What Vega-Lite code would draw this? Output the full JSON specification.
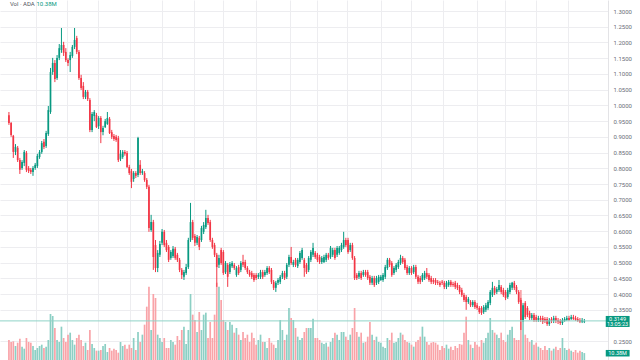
{
"$schema":"https://vega.github.io/schema/vega-lite/v6.json",
"width":608,"height":360,"autosize":"none",
"padding":{"left":0,"top":0,"right":32,"bottom":0},
"background":"white",
"config":{"view":{"stroke":null},"font":"Roboto"},
"datasets":{"k":[
{"i":0,"o":0.969,"h":0.979,"l":0.938,"c":0.944,"v":30},
{"i":1,"o":0.944,"h":0.947,"l":0.900,"c":0.906,"v":27},
{"i":2,"o":0.903,"h":0.906,"l":0.833,"c":0.852,"v":28},
{"i":3,"o":0.852,"h":0.877,"l":0.842,"c":0.868,"v":21},
{"i":4,"o":0.865,"h":0.871,"l":0.820,"c":0.826,"v":26},
{"i":5,"o":0.826,"h":0.833,"l":0.782,"c":0.795,"v":32},
{"i":6,"o":0.801,"h":0.826,"l":0.795,"c":0.820,"v":20},
{"i":7,"o":0.817,"h":0.858,"l":0.807,"c":0.852,"v":17},
{"i":8,"o":0.849,"h":0.855,"l":0.788,"c":0.795,"v":33},
{"i":9,"o":0.801,"h":0.807,"l":0.785,"c":0.791,"v":27},
{"i":10,"o":0.795,"h":0.801,"l":0.782,"c":0.788,"v":26},
{"i":11,"o":0.788,"h":0.807,"l":0.776,"c":0.801,"v":21},
{"i":12,"o":0.801,"h":0.817,"l":0.795,"c":0.811,"v":15},
{"i":13,"o":0.807,"h":0.846,"l":0.801,"c":0.839,"v":18},
{"i":14,"o":0.836,"h":0.858,"l":0.830,"c":0.852,"v":21},
{"i":15,"o":0.852,"h":0.887,"l":0.846,"c":0.880,"v":23},
{"i":16,"o":0.884,"h":0.893,"l":0.861,"c":0.868,"v":18},
{"i":17,"o":0.871,"h":0.919,"l":0.865,"c":0.912,"v":20},
{"i":18,"o":0.909,"h":0.998,"l":0.903,"c":0.985,"v":30},
{"i":19,"o":0.979,"h":1.119,"l":0.973,"c":1.106,"v":69},
{"i":20,"o":1.106,"h":1.151,"l":1.097,"c":1.135,"v":66},
{"i":21,"o":1.135,"h":1.144,"l":1.074,"c":1.084,"v":48},
{"i":22,"o":1.087,"h":1.160,"l":1.081,"c":1.151,"v":30},
{"i":23,"o":1.151,"h":1.195,"l":1.144,"c":1.182,"v":27},
{"i":24,"o":1.176,"h":1.246,"l":1.167,"c":1.192,"v":50},
{"i":25,"o":1.192,"h":1.202,"l":1.157,"c":1.167,"v":33},
{"i":26,"o":1.170,"h":1.182,"l":1.138,"c":1.144,"v":27},
{"i":27,"o":1.144,"h":1.150,"l":1.125,"c":1.135,"v":38},
{"i":28,"o":1.144,"h":1.170,"l":1.106,"c":1.160,"v":41},
{"i":29,"o":1.157,"h":1.192,"l":1.151,"c":1.186,"v":30},
{"i":30,"o":1.186,"h":1.246,"l":1.179,"c":1.208,"v":23},
{"i":31,"o":1.214,"h":1.221,"l":1.163,"c":1.170,"v":33},
{"i":32,"o":1.170,"h":1.176,"l":1.081,"c":1.087,"v":38},
{"i":33,"o":1.087,"h":1.097,"l":1.049,"c":1.055,"v":30},
{"i":34,"o":1.062,"h":1.074,"l":1.020,"c":1.027,"v":21},
{"i":35,"o":1.027,"h":1.049,"l":1.020,"c":1.043,"v":26},
{"i":36,"o":1.043,"h":1.049,"l":1.014,"c":1.020,"v":15},
{"i":37,"o":1.017,"h":1.023,"l":0.915,"c":0.922,"v":45},
{"i":38,"o":0.922,"h":0.979,"l":0.915,"c":0.973,"v":24},
{"i":39,"o":0.966,"h":0.985,"l":0.950,"c":0.979,"v":18},
{"i":40,"o":0.969,"h":0.976,"l":0.928,"c":0.931,"v":14},
{"i":41,"o":0.934,"h":0.966,"l":0.925,"c":0.960,"v":14},
{"i":42,"o":0.960,"h":0.966,"l":0.880,"c":0.915,"v":15},
{"i":43,"o":0.915,"h":0.935,"l":0.905,"c":0.928,"v":21},
{"i":44,"o":0.931,"h":0.957,"l":0.928,"c":0.950,"v":24},
{"i":45,"o":0.941,"h":0.979,"l":0.938,"c":0.960,"v":12},
{"i":46,"o":0.957,"h":0.963,"l":0.909,"c":0.912,"v":18},
{"i":47,"o":0.915,"h":0.922,"l":0.893,"c":0.900,"v":14},
{"i":48,"o":0.903,"h":0.909,"l":0.887,"c":0.893,"v":17},
{"i":49,"o":0.900,"h":0.906,"l":0.884,"c":0.890,"v":15},
{"i":50,"o":0.896,"h":0.903,"l":0.820,"c":0.826,"v":11},
{"i":51,"o":0.830,"h":0.858,"l":0.823,"c":0.846,"v":27},
{"i":52,"o":0.836,"h":0.858,"l":0.830,"c":0.852,"v":21},
{"i":53,"o":0.852,"h":0.858,"l":0.840,"c":0.846,"v":23},
{"i":54,"o":0.849,"h":0.855,"l":0.801,"c":0.804,"v":17},
{"i":55,"o":0.804,"h":0.811,"l":0.779,"c":0.785,"v":23},
{"i":56,"o":0.791,"h":0.798,"l":0.737,"c":0.757,"v":18},
{"i":57,"o":0.766,"h":0.791,"l":0.757,"c":0.785,"v":33},
{"i":58,"o":0.785,"h":0.791,"l":0.769,"c":0.776,"v":15},
{"i":59,"o":0.779,"h":0.900,"l":0.772,"c":0.896,"v":42},
{"i":60,"o":0.811,"h":0.826,"l":0.779,"c":0.785,"v":27},
{"i":61,"o":0.785,"h":0.798,"l":0.779,"c":0.791,"v":38},
{"i":62,"o":0.785,"h":0.791,"l":0.757,"c":0.763,"v":53},
{"i":63,"o":0.763,"h":0.769,"l":0.734,"c":0.741,"v":80},
{"i":64,"o":0.741,"h":0.747,"l":0.598,"c":0.610,"v":110},
{"i":65,"o":0.604,"h":0.652,"l":0.598,"c":0.629,"v":45},
{"i":66,"o":0.629,"h":0.636,"l":0.477,"c":0.518,"v":99},
{"i":67,"o":0.556,"h":0.572,"l":0.470,"c":0.483,"v":93},
{"i":68,"o":0.483,"h":0.540,"l":0.470,"c":0.531,"v":38},
{"i":69,"o":0.525,"h":0.569,"l":0.518,"c":0.559,"v":33},
{"i":70,"o":0.563,"h":0.607,"l":0.556,"c":0.598,"v":27},
{"i":71,"o":0.598,"h":0.604,"l":0.550,"c":0.556,"v":33},
{"i":72,"o":0.563,"h":0.572,"l":0.534,"c":0.540,"v":18},
{"i":73,"o":0.550,"h":0.556,"l":0.502,"c":0.509,"v":18},
{"i":74,"o":0.515,"h":0.540,"l":0.509,"c":0.534,"v":30},
{"i":75,"o":0.521,"h":0.553,"l":0.515,"c":0.544,"v":27},
{"i":76,"o":0.544,"h":0.550,"l":0.509,"c":0.515,"v":23},
{"i":77,"o":0.525,"h":0.531,"l":0.502,"c":0.509,"v":36},
{"i":78,"o":0.509,"h":0.515,"l":0.470,"c":0.477,"v":30},
{"i":79,"o":0.477,"h":0.483,"l":0.448,"c":0.461,"v":45},
{"i":80,"o":0.455,"h":0.477,"l":0.445,"c":0.470,"v":50},
{"i":81,"o":0.467,"h":0.496,"l":0.461,"c":0.486,"v":24},
{"i":82,"o":0.486,"h":0.579,"l":0.480,"c":0.572,"v":45},
{"i":83,"o":0.572,"h":0.690,"l":0.566,"c":0.629,"v":99},
{"i":84,"o":0.629,"h":0.636,"l":0.572,"c":0.579,"v":68},
{"i":85,"o":0.585,"h":0.591,"l":0.553,"c":0.563,"v":60},
{"i":86,"o":0.563,"h":0.588,"l":0.556,"c":0.582,"v":42},
{"i":87,"o":0.579,"h":0.585,"l":0.540,"c":0.550,"v":72},
{"i":88,"o":0.572,"h":0.617,"l":0.566,"c":0.610,"v":45},
{"i":89,"o":0.598,"h":0.629,"l":0.591,"c":0.620,"v":68},
{"i":90,"o":0.613,"h":0.668,"l":0.607,"c":0.642,"v":71},
{"i":91,"o":0.642,"h":0.652,"l":0.620,"c":0.626,"v":33},
{"i":92,"o":0.629,"h":0.636,"l":0.566,"c":0.572,"v":57},
{"i":93,"o":0.572,"h":0.579,"l":0.544,"c":0.550,"v":33},
{"i":94,"o":0.556,"h":0.563,"l":0.518,"c":0.525,"v":68},
{"i":95,"o":0.525,"h":0.531,"l":0.423,"c":0.486,"v":116},
{"i":96,"o":0.493,"h":0.525,"l":0.483,"c":0.515,"v":110},
{"i":97,"o":0.540,"h":0.547,"l":0.493,"c":0.499,"v":90},
{"i":98,"o":0.534,"h":0.540,"l":0.461,"c":0.467,"v":60},
{"i":99,"o":0.470,"h":0.505,"l":0.464,"c":0.499,"v":57},
{"i":100,"o":0.493,"h":0.499,"l":0.423,"c":0.455,"v":45},
{"i":101,"o":0.470,"h":0.502,"l":0.464,"c":0.496,"v":57},
{"i":102,"o":0.489,"h":0.505,"l":0.483,"c":0.499,"v":53},
{"i":103,"o":0.493,"h":0.499,"l":0.477,"c":0.483,"v":41},
{"i":104,"o":0.461,"h":0.489,"l":0.455,"c":0.483,"v":48},
{"i":105,"o":0.486,"h":0.493,"l":0.461,"c":0.467,"v":38},
{"i":106,"o":0.477,"h":0.505,"l":0.470,"c":0.499,"v":30},
{"i":107,"o":0.502,"h":0.525,"l":0.486,"c":0.493,"v":42},
{"i":108,"o":0.502,"h":0.509,"l":0.477,"c":0.483,"v":33},
{"i":109,"o":0.483,"h":0.489,"l":0.464,"c":0.470,"v":38},
{"i":110,"o":0.470,"h":0.477,"l":0.455,"c":0.461,"v":27},
{"i":111,"o":0.467,"h":0.474,"l":0.448,"c":0.455,"v":41},
{"i":112,"o":0.461,"h":0.467,"l":0.439,"c":0.445,"v":33},
{"i":113,"o":0.461,"h":0.467,"l":0.445,"c":0.451,"v":23},
{"i":114,"o":0.455,"h":0.467,"l":0.448,"c":0.461,"v":30},
{"i":115,"o":0.455,"h":0.477,"l":0.448,"c":0.470,"v":38},
{"i":116,"o":0.470,"h":0.477,"l":0.448,"c":0.455,"v":27},
{"i":117,"o":0.461,"h":0.477,"l":0.455,"c":0.470,"v":27},
{"i":118,"o":0.467,"h":0.489,"l":0.461,"c":0.483,"v":18},
{"i":119,"o":0.483,"h":0.489,"l":0.464,"c":0.470,"v":33},
{"i":120,"o":0.477,"h":0.483,"l":0.432,"c":0.439,"v":26},
{"i":121,"o":0.439,"h":0.445,"l":0.413,"c":0.420,"v":23},
{"i":122,"o":0.420,"h":0.442,"l":0.407,"c":0.436,"v":18},
{"i":123,"o":0.436,"h":0.451,"l":0.429,"c":0.445,"v":30},
{"i":124,"o":0.439,"h":0.461,"l":0.432,"c":0.455,"v":60},
{"i":125,"o":0.455,"h":0.474,"l":0.448,"c":0.467,"v":45},
{"i":126,"o":0.467,"h":0.474,"l":0.445,"c":0.451,"v":30},
{"i":127,"o":0.455,"h":0.499,"l":0.448,"c":0.493,"v":38},
{"i":128,"o":0.493,"h":0.525,"l":0.486,"c":0.518,"v":78},
{"i":129,"o":0.518,"h":0.550,"l":0.493,"c":0.499,"v":63},
{"i":130,"o":0.493,"h":0.509,"l":0.486,"c":0.502,"v":60},
{"i":131,"o":0.509,"h":0.515,"l":0.486,"c":0.493,"v":48},
{"i":132,"o":0.489,"h":0.515,"l":0.483,"c":0.509,"v":35},
{"i":133,"o":0.502,"h":0.537,"l":0.496,"c":0.531,"v":30},
{"i":134,"o":0.515,"h":0.547,"l":0.509,"c":0.540,"v":33},
{"i":135,"o":0.509,"h":0.515,"l":0.455,"c":0.483,"v":42},
{"i":136,"o":0.493,"h":0.499,"l":0.464,"c":0.470,"v":48},
{"i":137,"o":0.477,"h":0.521,"l":0.470,"c":0.515,"v":48},
{"i":138,"o":0.509,"h":0.540,"l":0.502,"c":0.534,"v":48},
{"i":139,"o":0.525,"h":0.563,"l":0.518,"c":0.547,"v":62},
{"i":140,"o":0.531,"h":0.537,"l":0.512,"c":0.518,"v":33},
{"i":141,"o":0.525,"h":0.531,"l":0.502,"c":0.509,"v":33},
{"i":142,"o":0.518,"h":0.525,"l":0.496,"c":0.502,"v":30},
{"i":143,"o":0.502,"h":0.521,"l":0.496,"c":0.515,"v":26},
{"i":144,"o":0.502,"h":0.525,"l":0.499,"c":0.518,"v":24},
{"i":145,"o":0.509,"h":0.531,"l":0.502,"c":0.525,"v":26},
{"i":146,"o":0.525,"h":0.531,"l":0.509,"c":0.515,"v":20},
{"i":147,"o":0.518,"h":0.553,"l":0.512,"c":0.547,"v":27},
{"i":148,"o":0.525,"h":0.547,"l":0.518,"c":0.540,"v":33},
{"i":149,"o":0.540,"h":0.547,"l":0.509,"c":0.515,"v":41},
{"i":150,"o":0.525,"h":0.553,"l":0.518,"c":0.547,"v":38},
{"i":151,"o":0.531,"h":0.553,"l":0.525,"c":0.547,"v":30},
{"i":152,"o":0.540,"h":0.563,"l":0.534,"c":0.556,"v":42},
{"i":153,"o":0.550,"h":0.598,"l":0.544,"c":0.572,"v":42},
{"i":154,"o":0.572,"h":0.579,"l":0.550,"c":0.556,"v":35},
{"i":155,"o":0.572,"h":0.579,"l":0.528,"c":0.534,"v":30},
{"i":156,"o":0.540,"h":0.563,"l":0.534,"c":0.556,"v":38},
{"i":157,"o":0.556,"h":0.563,"l":0.509,"c":0.515,"v":48},
{"i":158,"o":0.515,"h":0.521,"l":0.445,"c":0.451,"v":78},
{"i":159,"o":0.461,"h":0.467,"l":0.445,"c":0.451,"v":42},
{"i":160,"o":0.455,"h":0.474,"l":0.448,"c":0.467,"v":35},
{"i":161,"o":0.467,"h":0.474,"l":0.445,"c":0.451,"v":41},
{"i":162,"o":0.461,"h":0.477,"l":0.455,"c":0.470,"v":26},
{"i":163,"o":0.470,"h":0.477,"l":0.455,"c":0.461,"v":27},
{"i":164,"o":0.470,"h":0.477,"l":0.445,"c":0.451,"v":35},
{"i":165,"o":0.455,"h":0.461,"l":0.429,"c":0.436,"v":57},
{"i":166,"o":0.436,"h":0.458,"l":0.429,"c":0.451,"v":38},
{"i":167,"o":0.451,"h":0.458,"l":0.423,"c":0.429,"v":30},
{"i":168,"o":0.436,"h":0.458,"l":0.429,"c":0.451,"v":35},
{"i":169,"o":0.439,"h":0.461,"l":0.432,"c":0.455,"v":27},
{"i":170,"o":0.445,"h":0.461,"l":0.442,"c":0.455,"v":26},
{"i":171,"o":0.445,"h":0.467,"l":0.439,"c":0.461,"v":20},
{"i":172,"o":0.455,"h":0.493,"l":0.448,"c":0.486,"v":18},
{"i":173,"o":0.483,"h":0.515,"l":0.477,"c":0.509,"v":33},
{"i":174,"o":0.509,"h":0.515,"l":0.486,"c":0.493,"v":30},
{"i":175,"o":0.499,"h":0.505,"l":0.455,"c":0.461,"v":41},
{"i":176,"o":0.467,"h":0.489,"l":0.461,"c":0.483,"v":26},
{"i":177,"o":0.477,"h":0.499,"l":0.470,"c":0.493,"v":27},
{"i":178,"o":0.486,"h":0.509,"l":0.480,"c":0.502,"v":33},
{"i":179,"o":0.499,"h":0.525,"l":0.493,"c":0.515,"v":41},
{"i":180,"o":0.515,"h":0.521,"l":0.496,"c":0.502,"v":38},
{"i":181,"o":0.509,"h":0.515,"l":0.477,"c":0.483,"v":30},
{"i":182,"o":0.486,"h":0.493,"l":0.461,"c":0.467,"v":27},
{"i":183,"o":0.467,"h":0.489,"l":0.461,"c":0.483,"v":26},
{"i":184,"o":0.483,"h":0.489,"l":0.461,"c":0.467,"v":23},
{"i":185,"o":0.470,"h":0.493,"l":0.464,"c":0.486,"v":20},
{"i":186,"o":0.486,"h":0.493,"l":0.448,"c":0.455,"v":27},
{"i":187,"o":0.455,"h":0.461,"l":0.432,"c":0.439,"v":30},
{"i":188,"o":0.451,"h":0.458,"l":0.432,"c":0.439,"v":35},
{"i":189,"o":0.445,"h":0.467,"l":0.439,"c":0.461,"v":50},
{"i":190,"o":0.451,"h":0.474,"l":0.445,"c":0.467,"v":35},
{"i":191,"o":0.467,"h":0.483,"l":0.448,"c":0.455,"v":27},
{"i":192,"o":0.461,"h":0.467,"l":0.439,"c":0.445,"v":23},
{"i":193,"o":0.451,"h":0.458,"l":0.432,"c":0.439,"v":26},
{"i":194,"o":0.445,"h":0.451,"l":0.432,"c":0.439,"v":27},
{"i":195,"o":0.445,"h":0.451,"l":0.429,"c":0.436,"v":26},
{"i":196,"o":0.439,"h":0.445,"l":0.429,"c":0.436,"v":23},
{"i":197,"o":0.436,"h":0.442,"l":0.423,"c":0.429,"v":15},
{"i":198,"o":0.439,"h":0.445,"l":0.429,"c":0.436,"v":21},
{"i":199,"o":0.436,"h":0.442,"l":0.416,"c":0.423,"v":18},
{"i":200,"o":0.423,"h":0.442,"l":0.416,"c":0.436,"v":23},
{"i":201,"o":0.429,"h":0.445,"l":0.423,"c":0.439,"v":17},
{"i":202,"o":0.439,"h":0.445,"l":0.423,"c":0.429,"v":20},
{"i":203,"o":0.432,"h":0.439,"l":0.423,"c":0.429,"v":15},
{"i":204,"o":0.436,"h":0.442,"l":0.416,"c":0.423,"v":21},
{"i":205,"o":0.429,"h":0.436,"l":0.413,"c":0.420,"v":18},
{"i":206,"o":0.423,"h":0.429,"l":0.400,"c":0.407,"v":24},
{"i":207,"o":0.413,"h":0.420,"l":0.391,"c":0.397,"v":23},
{"i":208,"o":0.397,"h":0.404,"l":0.375,"c":0.381,"v":41},
{"i":209,"o":0.391,"h":0.397,"l":0.350,"c":0.375,"v":65},
{"i":210,"o":0.375,"h":0.391,"l":0.369,"c":0.385,"v":30},
{"i":211,"o":0.375,"h":0.381,"l":0.359,"c":0.365,"v":23},
{"i":212,"o":0.365,"h":0.381,"l":0.359,"c":0.375,"v":18},
{"i":213,"o":0.375,"h":0.381,"l":0.353,"c":0.359,"v":27},
{"i":214,"o":0.365,"h":0.372,"l":0.350,"c":0.356,"v":23},
{"i":215,"o":0.356,"h":0.362,"l":0.337,"c":0.343,"v":20},
{"i":216,"o":0.356,"h":0.362,"l":0.334,"c":0.340,"v":30},
{"i":217,"o":0.343,"h":0.365,"l":0.337,"c":0.359,"v":26},
{"i":218,"o":0.350,"h":0.372,"l":0.343,"c":0.365,"v":33},
{"i":219,"o":0.356,"h":0.381,"l":0.350,"c":0.375,"v":41},
{"i":220,"o":0.372,"h":0.413,"l":0.365,"c":0.407,"v":63},
{"i":221,"o":0.397,"h":0.439,"l":0.391,"c":0.420,"v":45},
{"i":222,"o":0.420,"h":0.426,"l":0.397,"c":0.404,"v":41},
{"i":223,"o":0.407,"h":0.423,"l":0.400,"c":0.416,"v":38},
{"i":224,"o":0.413,"h":0.445,"l":0.407,"c":0.429,"v":33},
{"i":225,"o":0.423,"h":0.429,"l":0.400,"c":0.407,"v":41},
{"i":226,"o":0.413,"h":0.420,"l":0.391,"c":0.397,"v":30},
{"i":227,"o":0.407,"h":0.413,"l":0.381,"c":0.388,"v":27},
{"i":228,"o":0.391,"h":0.420,"l":0.385,"c":0.413,"v":38},
{"i":229,"o":0.407,"h":0.436,"l":0.400,"c":0.429,"v":45},
{"i":230,"o":0.420,"h":0.439,"l":0.413,"c":0.436,"v":50},
{"i":231,"o":0.436,"h":0.442,"l":0.413,"c":0.420,"v":33},
{"i":232,"o":0.423,"h":0.429,"l":0.400,"c":0.407,"v":30},
{"i":233,"o":0.407,"h":0.413,"l":0.369,"c":0.375,"v":30},
{"i":234,"o":0.381,"h":0.388,"l":0.286,"c":0.318,"v":105},
{"i":235,"o":0.318,"h":0.372,"l":0.312,"c":0.365,"v":68},
{"i":236,"o":0.372,"h":0.378,"l":0.321,"c":0.327,"v":38},
{"i":237,"o":0.356,"h":0.362,"l":0.327,"c":0.334,"v":33},
{"i":238,"o":0.340,"h":0.347,"l":0.318,"c":0.324,"v":27},
{"i":239,"o":0.324,"h":0.340,"l":0.318,"c":0.334,"v":30},
{"i":240,"o":0.334,"h":0.340,"l":0.312,"c":0.318,"v":23},
{"i":241,"o":0.327,"h":0.334,"l":0.312,"c":0.318,"v":26},
{"i":242,"o":0.318,"h":0.331,"l":0.312,"c":0.324,"v":20},
{"i":243,"o":0.324,"h":0.331,"l":0.312,"c":0.318,"v":18},
{"i":244,"o":0.324,"h":0.331,"l":0.305,"c":0.312,"v":15},
{"i":245,"o":0.321,"h":0.327,"l":0.308,"c":0.315,"v":21},
{"i":246,"o":0.321,"h":0.327,"l":0.299,"c":0.305,"v":15},
{"i":247,"o":0.305,"h":0.324,"l":0.299,"c":0.318,"v":18},
{"i":248,"o":0.321,"h":0.327,"l":0.308,"c":0.315,"v":14},
{"i":249,"o":0.315,"h":0.331,"l":0.308,"c":0.324,"v":17},
{"i":250,"o":0.324,"h":0.331,"l":0.308,"c":0.315,"v":20},
{"i":251,"o":0.318,"h":0.324,"l":0.305,"c":0.312,"v":15},
{"i":252,"o":0.315,"h":0.321,"l":0.302,"c":0.308,"v":18},
{"i":253,"o":0.308,"h":0.324,"l":0.302,"c":0.318,"v":33},
{"i":254,"o":0.315,"h":0.327,"l":0.312,"c":0.321,"v":18},
{"i":255,"o":0.318,"h":0.331,"l":0.315,"c":0.324,"v":15},
{"i":256,"o":0.324,"h":0.331,"l":0.315,"c":0.318,"v":17},
{"i":257,"o":0.321,"h":0.334,"l":0.318,"c":0.327,"v":14},
{"i":258,"o":0.327,"h":0.334,"l":0.318,"c":0.321,"v":12},
{"i":259,"o":0.324,"h":0.331,"l":0.315,"c":0.318,"v":15},
{"i":260,"o":0.321,"h":0.327,"l":0.312,"c":0.315,"v":11},
{"i":261,"o":0.318,"h":0.324,"l":0.308,"c":0.312,"v":14},
{"i":262,"o":0.312,"h":0.324,"l":0.308,"c":0.318,"v":12},
{"i":263,"o":0.312,"h":0.321,"l":0.308,"c":0.3149,"v":10.38}
]},
"data":{"name":"k"},
"layer":[
{"mark":{"type":"bar","size":1.7},
 "encoding":{
  "x":{"field":"i","type":"quantitative","scale":{"domain":[-1.798,271.54],"nice":false,"zero":false},
   "axis":{"grid":true,"tickCount":60,"values":[12.6,26.5,40.9,55.3,70.1,84.5,98,112.8,128.6,140.7,154.7,169.9,183.9,198.3,214,226.6,241,255.4],"labels":false,"ticks":false,"domain":false,"gridColor":"#ededf0","title":null}},
  "y":{"field":"v","type":"quantitative","scale":{"domain":[0,540],"nice":false,"zero":true},"axis":null},
  "color":{"condition":{"test":"datum.c < datum.o","value":"#f9a3a8"},"value":"#8ccfc4"}
 }},
{"layer":[
 {"mark":{"type":"rule","strokeWidth":1},
  "encoding":{
   "x":{"field":"i","type":"quantitative","title":null},
   "y":{"field":"l","type":"quantitative","scale":{"domain":[0.1906,1.335],"nice":false,"zero":false},
    "axis":{"orient":"right","tickCount":60,"values":[0.25,0.35,0.4,0.45,0.5,0.55,0.6,0.65,0.7,0.75,0.8,0.85,0.9,0.95,1.0,1.05,1.1,1.15,1.2,1.25,1.3],"format":".4f","title":null,"grid":true,"gridColor":"#ededf0","ticks":false,"domain":true,"domainColor":"#e3e3e6","labelFontSize":6,"labelColor":"#6a6d78","labelPadding":5,"labelFont":"Roboto","labelOverlap":false,"labelBound":false}},
   "y2":{"field":"h"},
   "color":{"condition":{"test":"datum.c < datum.o","value":"#f23645"},"value":"#089981"}
  }},
 {"mark":{"type":"bar","size":1.7},
  "encoding":{
   "x":{"field":"i","type":"quantitative","title":null},
   "y":{"field":"o","type":"quantitative","title":null},
   "y2":{"field":"c"},
   "color":{"condition":{"test":"datum.c < datum.o","value":"#f23645"},"value":"#089981"}
  }},
 {"data":{"values":[{}]},"mark":{"type":"rule","strokeWidth":1,"color":"#8fd3c7"},
  "encoding":{"y":{"datum":0.3149,"type":"quantitative"}}},
 {"data":{"values":[{}]},"mark":{"type":"rect","color":"#089981"},
  "encoding":{"x":{"datum":272.8,"type":"quantitative"},"x2":{"datum":283.7},"y":{"datum":0.3306,"type":"quantitative"},"y2":{"datum":0.2956}}},
 {"data":{"values":[{}]},"mark":{"type":"rect","color":"#089981"},
  "encoding":{"x":{"datum":272.8,"type":"quantitative"},"x2":{"datum":283.7},"y":{"datum":0.2225,"type":"quantitative"},"y2":{"datum":0.2018}}},
 {"data":{"values":[{"t":"0.3149","p":0.3201},{"t":"13:05:23","p":0.3042},{"t":"10.38M","p":0.2122}]},
  "mark":{"type":"text","color":"white","fontSize":5.5,"align":"center","baseline":"middle","font":"Roboto"},
  "encoding":{"x":{"datum":278.2,"type":"quantitative"},"y":{"field":"p","type":"quantitative","title":null},"text":{"field":"t"}}},
 {"data":{"values":[{"t":"Vol · ADA","p":1.3207,"x":0.45,"col":"a"},{"t":"10.38M","p":1.3207,"x":12.6,"col":"b"}]},
  "mark":{"type":"text","fontSize":6,"align":"left","baseline":"middle","font":"Roboto"},
  "encoding":{"x":{"field":"x","type":"quantitative","title":null},"y":{"field":"p","type":"quantitative","title":null},"text":{"field":"t"},
   "color":{"field":"col","type":"nominal","scale":{"domain":["a","b"],"range":["#50535e","#089981"]},"legend":null}}}
]}
],
"resolve":{"scale":{"y":"independent"}}
}
